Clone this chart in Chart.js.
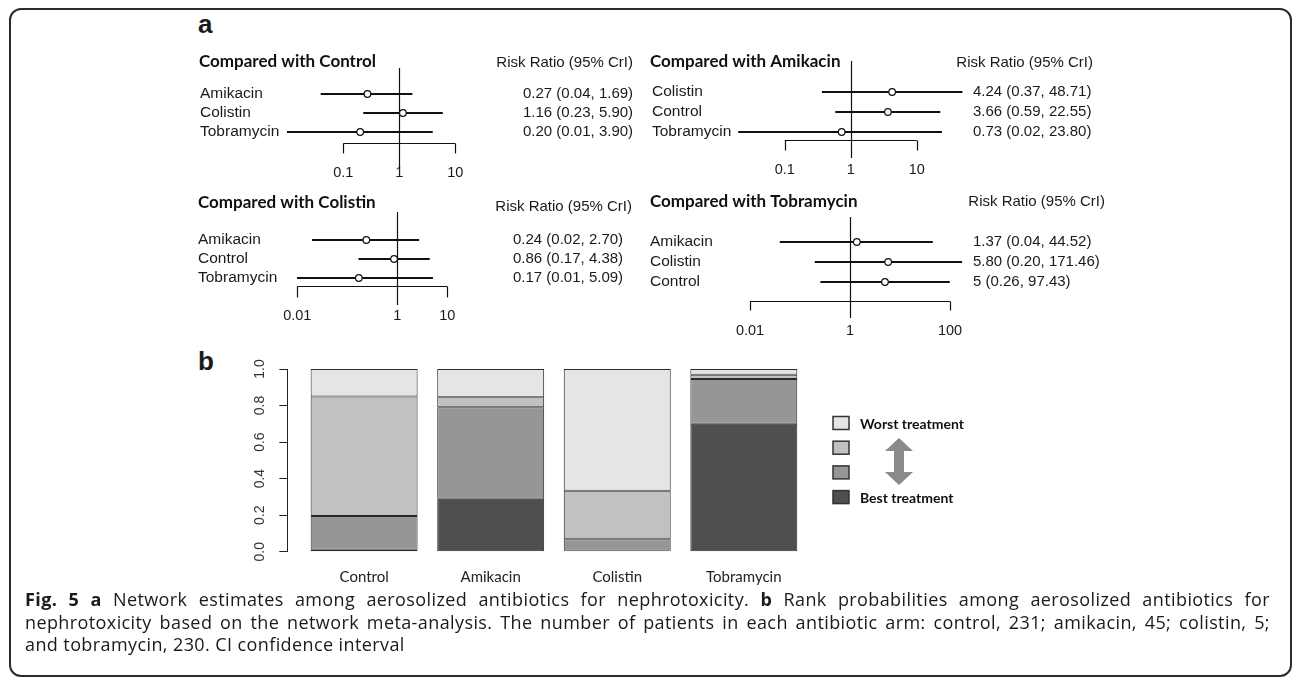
<!DOCTYPE html>
<html>
<head>
<meta charset="utf-8">
<script src="https://cdn.jsdelivr.net/npm/chart.js@4.4.1/dist/chart.umd.min.js"></script>
<style>
  body { margin: 0; background: #fff; }
  #page { position: relative; width: 1292px; height: 681px; overflow: hidden; color: #1a1a1a; font-family: "Liberation Sans", Arial, sans-serif; }
  #frame { position: absolute; left: 9px; top: 8px; width: 1283px; height: 669px; box-sizing: border-box; border: 2px solid #2b2b2b; border-radius: 12px; }
  canvas { position: absolute; }
  .tag { position: absolute; font: bold 26px "Liberation Sans", Arial, sans-serif; line-height: 26px; }
  #caption { position: absolute; left: 25px; top: 588px; width: 1245px; font: 18px "Open Sans", sans-serif; letter-spacing: 0.4px; line-height: 22.5px; color: #1a1a1a; }
  #caption div { white-space: nowrap; }
  #caption .j { text-align: justify; text-align-last: justify; }
</style>
</head>
<body>
<div id="page">
  <div id="frame"></div>
  <div class="tag" style="left:198px;top:11px">a</div>
  <div class="tag" style="left:198px;top:348px">b</div>

  <canvas id="fpCtrl" width="450" height="150" style="left:190px;top:40px"></canvas>
  <canvas id="fpAmik" width="470" height="150" style="left:640px;top:40px"></canvas>
  <canvas id="fpCol" width="450" height="150" style="left:190px;top:190px"></canvas>
  <canvas id="fpTob" width="470" height="150" style="left:640px;top:190px"></canvas>
  <canvas id="rankChart" width="930" height="245" style="left:190px;top:345px"></canvas>

  <div id="caption">
    <div class="j"><b>Fig. 5 a</b> Network estimates among aerosolized antibiotics for nephrotoxicity. <b>b</b> Rank probabilities among aerosolized antibiotics for</div>
    <div class="j">nephrotoxicity based on the network meta-analysis. The number of patients in each antibiotic arm: control, 231; amikacin, 45; colistin, 5;</div>
    <div>and tobramycin, 230. CI confidence interval</div>
  </div>
</div>

<script>
// Panel a - risk ratio (95% CrI) vs each reference arm
const ctrlRows = ["Amikacin", "Colistin", "Tobramycin"];
const ctrlRR = [0.27, 1.16, 0.20];
const ctrlLo = [0.04, 0.23, 0.01];
const ctrlHi = [1.69, 5.90, 3.90];
const ctrlTicks = [0.1, 1, 10];

const amikRows = ["Colistin", "Control", "Tobramycin"];
const amikRR = [4.24, 3.66, 0.73];
const amikLo = [0.37, 0.59, 0.02];
const amikHi = [48.71, 22.55, 23.80];
const amikTicks = [0.1, 1, 10];

const colRows = ["Amikacin", "Control", "Tobramycin"];
const colRR = [0.24, 0.86, 0.17];
const colLo = [0.02, 0.17, 0.01];
const colHi = [2.70, 4.38, 5.09];
const colTicks = [0.01, 1, 10];

const tobRows = ["Amikacin", "Colistin", "Control"];
const tobRR = [1.37, 5.80, 5];
const tobLo = [0.04, 0.20, 0.26];
const tobHi = [44.52, 171.46, 97.43];
const tobTicks = [0.01, 1, 100];

// Panel b - rank probabilities (bottom = best)
const drugs = ["Control", "Amikacin", "Colistin", "Tobramycin"];
const rank1 = [0.01, 0.29, 0.005, 0.70];
const rank2 = [0.185, 0.50, 0.063, 0.245];
const rank3 = [0.655, 0.055, 0.266, 0.023];
const rank4 = [0.15, 0.155, 0.666, 0.032];
const rankTicks = [0, 0.2, 0.4, 0.6, 0.8, 1.0];
const rankNames = ["Best treatment", "", "", "Worst treatment"];

const shades = ["#4f4f4f", "#969696", "#c1c1c1", "#e5e5e5"];

Chart.defaults.font.family = "'Liberation Sans', Arial, sans-serif";
Chart.defaults.color = "#1a1a1a";

const fmt = v => Number.isInteger(v) ? String(v) : v.toFixed(2);

// draws the line of no effect, the bracket axis and the headers
function forestDecor(title, ticks, lay) {
  return {
    id: "forestDecor",
    beforeDatasetsDraw(chart) {
      const { ctx, chartArea: a } = chart;
      const x = chart.scales.x;
      const x1 = Math.round(x.getPixelForValue(1)) + 0.5;
      const by = Math.round(a.bottom + lay.brk) + 0.5;
      ctx.save();
      ctx.strokeStyle = "#111";
      ctx.lineWidth = 1.2;
      ctx.beginPath();
      ctx.moveTo(x1, a.top - lay.lineUp);
      ctx.lineTo(x1, a.bottom + lay.lineDown);
      ctx.moveTo(x.getPixelForValue(ticks[0]), by);
      ctx.lineTo(x.getPixelForValue(ticks[ticks.length - 1]), by);
      ticks.forEach(v => {
        const px = Math.round(x.getPixelForValue(v)) + 0.5;
        ctx.moveTo(px, by);
        ctx.lineTo(px, by + lay.tickLen);
      });
      ctx.stroke();
      ctx.restore();
    },
    afterDraw(chart) {
      const ctx = chart.ctx;
      ctx.save();
      ctx.fillStyle = "#111";
      ctx.textBaseline = "middle";
      ctx.textAlign = "left";
      ctx.font = "bold 17px Lato";
      ctx.fillText(title, lay.titleX, lay.titleY);
      ctx.font = "15px 'Liberation Sans'";
      ctx.fillStyle = "#1a1a1a";
      ctx.textAlign = "right";
      ctx.fillText("Risk Ratio (95% CrI)", lay.rrX, lay.rrY);
      ctx.restore();
    }
  };
}

function forest(id, title, rows, rr, lo, hi, ticks, lay) {
  const ciText = rows.map((r, i) => fmt(rr[i]) + " (" + fmt(lo[i]) + ", " + fmt(hi[i]) + ")");
  return new Chart(document.getElementById(id), {
    type: "bar",
    data: {
      labels: rows,
      datasets: [
        {
          label: "CrI",
          data: rows.map((r, i) => [lo[i], hi[i]]),
          backgroundColor: "#111",
          barThickness: 1.2,
          order: 2,
          xAxisID: "x",
          yAxisID: "y"
        },
        {
          type: "scatter",
          label: "RR",
          data: rows.map((r, i) => ({ x: rr[i], y: r })),
          pointRadius: 3.3,
          pointBackgroundColor: "#fff",
          pointBorderColor: "#111",
          pointBorderWidth: 1.2,
          order: 1,
          xAxisID: "x",
          yAxisID: "y"
        }
      ]
    },
    options: {
      indexAxis: "y",
      responsive: false,
      animation: false,
      events: [],
      layout: { padding: { left: lay.padL, top: lay.padT, right: 0, bottom: 0 } },
      plugins: { legend: { display: false }, tooltip: { enabled: false } },
      scales: {
        x: {
          type: "logarithmic",
          min: lay.min,
          max: lay.max,
          grid: { display: false, drawTicks: false },
          border: { display: false },
          afterBuildTicks: s => { s.ticks = ticks.map(v => ({ value: v })); },
          afterFit: s => { s.height = lay.axisH; },
          ticks: {
            padding: lay.tickPad,
            autoSkip: false,
            maxRotation: 0,
            color: "#1a1a1a",
            font: { size: 14.5 },
            callback: v => String(v)
          }
        },
        y: {
          type: "category",
          position: "left",
          grid: { display: false, drawTicks: false },
          border: { display: false },
          afterFit: s => { s.width = lay.leftW; },
          ticks: { autoSkip: false, crossAlign: "far", padding: 0, color: "#1a1a1a", font: { size: 15.5 } }
        },
        y2: {
          type: "category",
          position: "right",
          labels: ciText,
          grid: { display: false, drawTicks: false },
          border: { display: false },
          afterFit: s => { s.width = lay.rightW; },
          ticks: { autoSkip: false, crossAlign: "near", padding: lay.valPad, color: "#1a1a1a", font: { size: 15 } }
        }
      }
    },
    plugins: [forestDecor(title, ticks, lay)]
  });
}

forest("fpCtrl", "Compared with Control", ctrlRows, ctrlRR, ctrlLo, ctrlHi, ctrlTicks,
  { padL: 10, leftW: 85, rightW: 127, padT: 44.5, axisH: 48.5, tickPad: 23, valPad: 10,
    min: 0.0091, max: 107.2, lineUp: 16.5, lineDown: 26.5, brk: 1.5, tickLen: 10,
    titleX: 9, titleY: 22, rrX: 443, rrY: 23 });

forest("fpAmik", "Compared with Amikacin", amikRows, amikRR, amikLo, amikHi, amikTicks,
  { padL: 12, leftW: 84, rightW: 145, padT: 42, axisH: 48, tickPad: 19.6, valPad: 8,
    min: 0.01828, max: 53.9, lineUp: 21, lineDown: 16, brk: -2, tickLen: 10,
    titleX: 10, titleY: 22, rrX: 453, rrY: 23 });

forest("fpCol", "Compared with Colistin", colRows, colRR, colLo, colHi, colTicks,
  { padL: 8, leftW: 86, rightW: 135, padT: 40.5, axisH: 52.5, tickPad: 20, valPad: 8,
    min: 0.00542, max: 142.6, lineUp: 18.5, lineDown: 17.5, brk: -1.5, tickLen: 11,
    titleX: 8, titleY: 13, rrX: 442, rrY: 17 });

forest("fpTob", "Compared with Tobramycin", tobRows, tobRR, tobLo, tobHi, tobTicks,
  { padL: 10, leftW: 85, rightW: 145, padT: 42, axisH: 48, tickPad: 30.6, valPad: 8,
    min: 0.00501, max: 199.5, lineUp: 15, lineDown: 26, brk: 9, tickLen: 9,
    titleX: 10, titleY: 12, rrX: 465, rrY: 12 });

// legend boxes + double arrow for panel b
const rankLegend = {
  id: "rankLegend",
  afterDraw(chart) {
    const ctx = chart.ctx;
    const sets = chart.data.datasets;
    ctx.save();
    for (let k = 0; k < sets.length; k++) {
      const ds = sets[sets.length - 1 - k];
      const y = 78 + k * 24.7;
      ctx.fillStyle = ds.backgroundColor;
      ctx.fillRect(643, y - 6.5, 16, 13);
      ctx.strokeStyle = "#333";
      ctx.lineWidth = 1.5;
      ctx.strokeRect(643, y - 6.5, 16, 13);
      if (ds.label) {
        ctx.fillStyle = "#111";
        ctx.font = "bold 14px Lato";
        ctx.textBaseline = "middle";
        ctx.textAlign = "left";
        ctx.fillText(ds.label, 670, y + 1);
      }
    }
    const cx = 709, top = 93, bot = 140;
    ctx.fillStyle = "#8a8a8a";
    ctx.beginPath();
    ctx.moveTo(cx, top);
    ctx.lineTo(cx + 14, top + 13);
    ctx.lineTo(cx + 5, top + 13);
    ctx.lineTo(cx + 5, bot - 13);
    ctx.lineTo(cx + 14, bot - 13);
    ctx.lineTo(cx, bot);
    ctx.lineTo(cx - 14, bot - 13);
    ctx.lineTo(cx - 5, bot - 13);
    ctx.lineTo(cx - 5, top + 13);
    ctx.lineTo(cx - 14, top + 13);
    ctx.closePath();
    ctx.fill();
    ctx.restore();
  }
};

const rankSets = [rank1, rank2, rank3, rank4].map((vals, k) => ({
  label: rankNames[k],
  data: vals.map((v, i) => ({ x: i + 1, y: v })),
  backgroundColor: shades[k],
  borderColor: "#2a2a2a",
  borderWidth: 1,
  borderSkipped: false,
  barPercentage: 0.845,
  categoryPercentage: 1
}));

new Chart(document.getElementById("rankChart"), {
  type: "bar",
  data: { datasets: rankSets },
  options: {
    responsive: false,
    animation: false,
    events: [],
    layout: { padding: { left: 0, top: 24, right: 312.9, bottom: 0 } },
    plugins: { legend: { display: false }, tooltip: { enabled: false } },
    scales: {
      x: {
        type: "linear",
        offset: false,
        min: 0.393,
        max: 4.5,
        stacked: true,
        grid: { display: false, drawTicks: false },
        border: { display: false },
        afterBuildTicks: s => { s.ticks = drugs.map((d, i) => ({ value: i + 1 })); },
        afterFit: s => { s.height = 38.3; },
        ticks: {
          padding: 16,
          autoSkip: false,
          maxRotation: 0,
          color: "#222",
          font: { family: "Lato", size: 15 },
          callback: v => drugs[v - 1]
        }
      },
      y: {
        min: 0,
        max: 1,
        stacked: true,
        afterBuildTicks: s => { s.ticks = rankTicks.map(v => ({ value: v })); },
        afterFit: s => { s.width = 97.3; },
        grid: { drawOnChartArea: false, tickLength: 8, color: "#222" },
        border: { color: "#222" },
        ticks: {
          minRotation: 90,
          maxRotation: 90,
          crossAlign: "center",
          padding: 9.5,
          color: "#333",
          font: { size: 14 },
          callback: v => v.toFixed(1)
        }
      }
    }
  },
  plugins: [rankLegend]
});
</script>
</body>
</html>
